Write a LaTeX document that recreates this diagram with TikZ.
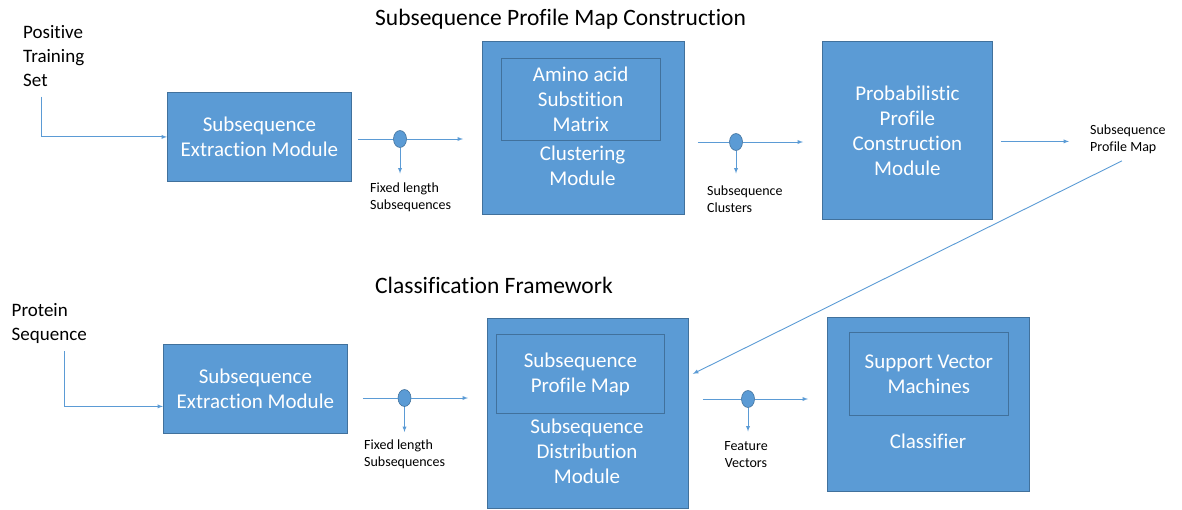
\documentclass[tikz,border=0pt]{standalone}
\usepackage{fontspec}
\setmainfont{Carlito}[Ligatures={NoCommon}]
\usetikzlibrary{arrows,calc,positioning,shapes.geometric}
\definecolor{boxblue}{HTML}{5B9BD5}
\definecolor{edgeblue}{HTML}{41719C}

\begin{document}
\begin{tikzpicture}[x=1pt,y=-1pt,>=latex,
    module/.style={rectangle, draw=edgeblue, line width=0.8pt, fill=boxblue, text=white, inner sep=0pt, anchor=north west, align=center, font=\fontsize{21}{25}\selectfont},
    inbox/.style={rectangle, draw=edgeblue, line width=0.8pt, inner sep=0pt, anchor=north west, align=center, text=white, font=\fontsize{21}{25}\selectfont},
    boxtext/.style={text=white, inner sep=0pt, align=center, font=\fontsize{21}{25}\selectfont},
    junction/.style={ellipse, draw=edgeblue, line width=0.6pt, fill=boxblue, minimum width=13pt, minimum height=17pt, inner sep=0pt},
    flow/.style={draw=boxblue, line width=0.9pt},
    note/.style={font=\fontsize{14}{17}\selectfont, align=left, inner sep=0pt, anchor=north west},
    heading/.style={font=\fontsize{23.5}{28}\selectfont, inner sep=0pt, anchor=base west},
    source/.style={font=\fontsize{19}{24}\selectfont, align=left, inner sep=0pt, anchor=north west}]
    \useasboundingbox (0,0) rectangle (1182,509);

    \node(head1) [heading] at (375,25) {Subsequence Profile Map Construction};
    \node(head2) [heading] at (375,293) {Classification Framework};

    \node(pos) [source] at (23,25) {Positive\\Training\\Set};
    \node(ext1) [module, minimum width=184pt, minimum height=89pt] at (167,92) {Subsequence\\Extraction Module};
    \node(d1) [junction] at (400,139) {};
    \node(fl1) [note] at (370,182.5) {Fixed length\\Subsequences};
    \node(clu) [module, minimum width=202pt, minimum height=173pt] at (482,41) {};
    \node(sub) [inbox, minimum width=159.5pt, minimum height=82pt] at (500.5,57.5) {Amino acid\\Substition\\Matrix};
    \node(clut) [boxtext] at (582.5,166) {Clustering\\Module};
    \node(d2) [junction] at (736,142) {};
    \node(sc) [note] at (707,185.5) {Subsequence\\Clusters};
    \node(prob) [module, minimum width=170pt, minimum height=178pt] at (822,41) {Probabilistic\\Profile\\Construction\\Module};
    \node(spm) [note] at (1090,124.5) {Subsequence\\Profile Map};

    \node(prot) [source] at (11.5,303.5) {Protein\\Sequence};
    \node(ext2) [module, minimum width=184pt, minimum height=89pt] at (163,344) {Subsequence\\Extraction Module};
    \node(d3) [junction] at (404.5,398) {};
    \node(fl2) [note] at (364,440) {Fixed length\\Subsequences};
    \node(dist) [module, minimum width=201pt, minimum height=190pt] at (487,318) {};
    \node(map) [inbox, minimum width=168pt, minimum height=79pt] at (496,334) {Subsequence\\Profile Map};
    \node(distt) [boxtext] at (587,451) {Subsequence\\Distribution\\Module};
    \node(d4) [junction] at (748,399) {};
    \node(fv) [note, align=center, anchor=north] at (746,441.5) {Feature\\Vectors};
    \node(cls) [module, minimum width=202pt, minimum height=174pt] at (827,317) {};
    \node(svm) [inbox, minimum width=159pt, minimum height=83pt] at (849,332) {Support Vector\\Machines};
    \node(clst) [boxtext] at (928,441) {Classifier};

    \draw[flow,->] ([xshift=18pt,yshift=-10pt]pos.south west) |- (ext1.west);
    \draw[flow,shorten <=6pt] (ext1.east |- d1) -- (d1.west);
    \draw[flow,->,shorten >=19pt] (d1.east) -- (d1 -| clu.west);
    \draw[flow,->,shorten >=9pt] (d1.south) -- (d1 |- fl1.north);
    \draw[flow,shorten <=13pt] (clu.east |- d2) -- (d2.west);
    \draw[flow,->,shorten >=19pt] (d2.east) -- (d2 -| prob.west);
    \draw[flow,->,shorten >=12pt] (d2.south) -- (d2 |- sc.north);
    \draw[flow,->,shorten <=8pt,shorten >=21pt] ([yshift=-11pt]prob.east) -- ([yshift=-11pt]prob.east -| spm.west);
    \draw[flow,->] ([xshift=-6pt,yshift=-7pt]spm.south) -- ([xshift=4pt,yshift=39.5pt]dist.east);

    \draw[flow,->] ([xshift=52.5pt,yshift=-7pt]prot.south west) |- ([yshift=-17.5pt]ext2.west);
    \draw[flow,shorten <=15pt] (ext2.east |- d3) -- (d3.west);
    \draw[flow,->,shorten >=19pt] (d3.east) -- (d3 -| dist.west);
    \draw[flow,->,shorten >=8pt] (d3.south) -- (d3 |- fl2.north);
    \draw[flow,shorten <=14pt] (dist.east |- d4) -- (d4.west);
    \draw[flow,->,shorten >=19pt] (d4.east) -- (d4 -| cls.west);
    \draw[flow,->,shorten >=10pt] (d4.south) -- (d4 |- fv.north);
\end{tikzpicture}
\end{document}
